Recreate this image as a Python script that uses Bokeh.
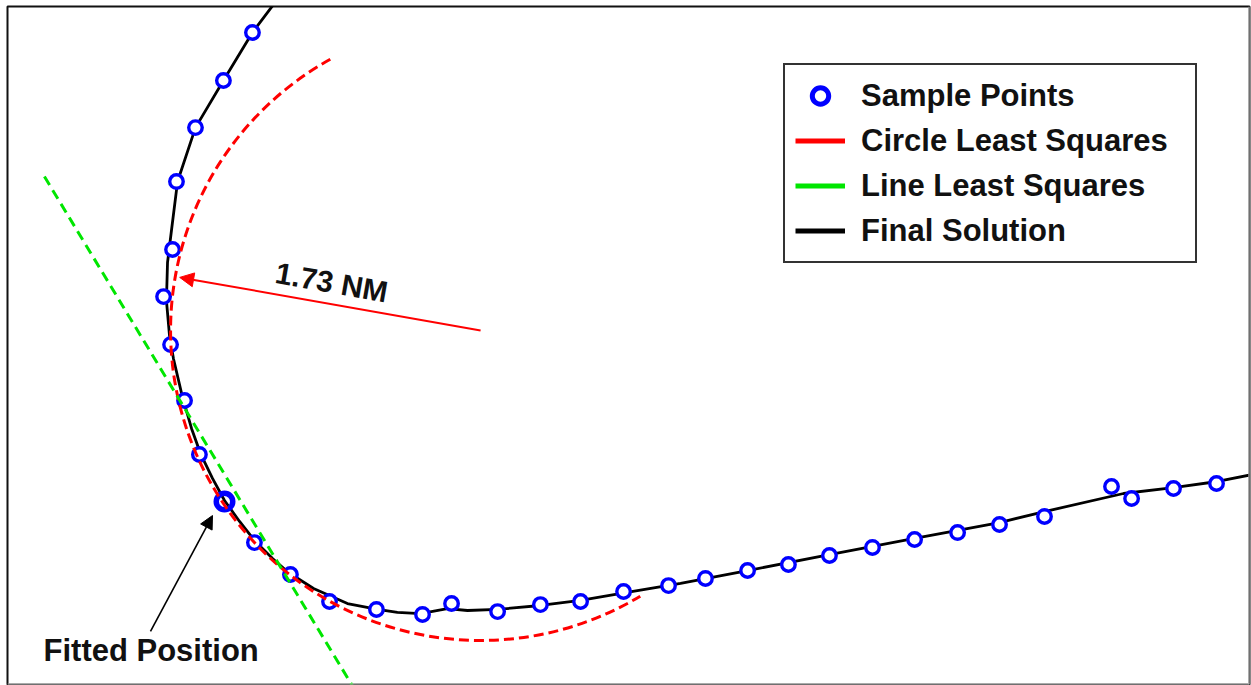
import numpy as np
from bokeh.plotting import figure
from bokeh.models import (Range1d, Arrow, NormalHead, Label, Legend,
                          LegendItem, Span)
from bokeh.embed import file_html
from bokeh.resources import INLINE

# Positions in nautical miles (east, north) inside the display window
sample_east = [1.367, 1.205, 1.049, 0.943, 0.921, 0.871, 0.910, 0.988, 1.071,
               1.378, 1.579, 1.797, 2.059, 2.316, 2.478, 2.735, 2.974, 3.198,
               3.438, 3.689, 3.895, 4.130, 4.358, 4.587, 4.827, 5.062, 5.302,
               5.536, 5.787, 6.161, 6.273, 6.507, 6.747]
sample_north = [3.639, 3.371, 3.108, 2.807, 2.428, 2.165, 1.897, 1.585, 1.284,
                0.792, 0.614, 0.463, 0.419, 0.391, 0.452, 0.407, 0.446, 0.463,
                0.519, 0.552, 0.592, 0.636, 0.670, 0.720, 0.765, 0.809, 0.848,
                0.893, 0.938, 1.105, 1.038, 1.094, 1.122]

fit_east = [1.211]
fit_north = [1.021]

# Final solution track
track_east = [1.501, 1.367, 1.205, 1.049, 0.949, 0.915, 0.893, 0.887, 0.904,
              0.926, 0.977, 1.027, 1.077, 1.144, 1.211, 1.295, 1.378, 1.479,
              1.568, 1.708, 1.897, 2.065, 2.176, 2.305, 2.455, 2.567, 2.735,
              2.974, 3.198, 3.449, 3.756, 4.130, 4.587, 5.062, 5.536, 5.787,
              6.228, 6.507, 6.753, 6.948]
track_north = [3.817, 3.639, 3.371, 3.108, 2.807, 2.534, 2.355, 2.143, 1.948,
               1.819, 1.602, 1.429, 1.289, 1.150, 1.027, 0.910, 0.804, 0.703,
               0.625, 0.536, 0.452, 0.419, 0.402, 0.396, 0.424, 0.413, 0.419,
               0.441, 0.469, 0.513, 0.564, 0.636, 0.725, 0.815, 0.904, 0.965,
               1.066, 1.099, 1.133, 1.172]

# Circle least-squares fit
circle_east = [2.640]
circle_north = [1.976]
circle_radius = 1.73
arc_start_deg = 119.0
arc_end_deg = 301.0

# Line least-squares fit: north = slope * east + intercept
line_slope = -1.654
line_intercept = 3.176
line_east = [0.206, 1.95]

view_east = 6.931
view_north = 3.784

FONT = "Liberation Sans"
BLUE = "#0000ff"
RED = "#ff0000"
GREEN = "#00e600"

p = figure(width=1251, height=685,
           x_range=Range1d(0, view_east), y_range=Range1d(0, view_north),
           x_axis_type=None, y_axis_type=None, tools="",
           toolbar_location=None, output_backend="svg",
           min_border_left=7, min_border_right=2,
           min_border_top=6, min_border_bottom=1,
           background_fill_color="white", border_fill_color="white",
           outline_line_color="#111111", outline_line_width=2,
           outline_line_alpha=1.0)

# Final solution
p.line(track_east, track_north, line_color="black", line_width=2.8,
       line_join="round")

# Sample points
p.scatter(sample_east, sample_north, marker="circle", size=13.5,
          line_color=BLUE, line_width=3.4, fill_color="white")
p.scatter(fit_east, fit_north, marker="circle", size=16.5,
          line_color=BLUE, line_width=5.5, fill_color="white", fill_alpha=0)

# Circle least squares arc
p.arc(x=circle_east, y=circle_north, radius=circle_radius,
      start_angle=arc_start_deg, end_angle=arc_end_deg, start_angle_units="deg",
      end_angle_units="deg", direction="anticlock",
      line_color=RED, line_width=3, line_dash="10 5")

# Line least squares
line_north = [line_slope * e + line_intercept for e in line_east]
p.line(line_east, line_north, line_color=GREEN, line_width=3,
       line_dash="10 6")

# Radius arrow and label
theta = np.deg2rad(170.0)
cx, cy = circle_east[0], circle_north[0]
ux, uy = np.cos(theta), np.sin(theta)
tip_r = circle_radius - 0.025
p.add_layout(Arrow(x_start=cx, y_start=cy,
                   x_end=cx + tip_r * ux, y_end=cy + tip_r * uy,
                   line_color=RED, line_width=2,
                   end=NormalHead(size=14, fill_color=RED, line_color=RED)))
nx, ny = -uy, ux
if ny < 0:
    nx, ny = -nx, -ny
mid = 0.5 * circle_radius
p.add_layout(Label(x=cx + mid * ux + 0.12 * nx, y=cy + mid * uy + 0.12 * ny,
                   text=f"{circle_radius:.2f} NM", angle=170.0 - 180.0,
                   angle_units="deg", text_align="center",
                   text_baseline="middle", text_font=FONT,
                   text_font_style="bold", text_font_size="30px",
                   text_color="#111111"))

# Fitted position callout
p.add_layout(Arrow(x_start=0.798, y_start=0.296,
                   x_end=fit_east[0] - 0.067, y_end=fit_north[0] - 0.078,
                   line_color="black", line_width=1.6,
                   end=NormalHead(size=13, fill_color="black",
                                  line_color="black")))
p.add_layout(Label(x=0.201, y=0.19, text="Fitted Position",
                   text_align="left", text_baseline="middle", text_font=FONT,
                   text_font_style="bold", text_font_size="31px",
                   text_color="#111111"))

# Light right/bottom edges of the frame
p.add_layout(Span(location=view_east, dimension="height",
                  line_color="#cfcfcf", line_width=2))
p.add_layout(Span(location=0, dimension="width",
                  line_color="#cfcfcf", line_width=2))

# Legend swatches (solid styles, placed outside the visible window)
off_e = [-2.0, -1.5]
off_n = [-2.0, -2.0]
leg_pts = p.scatter(off_e, off_n, marker="circle", line_color=BLUE,
                    line_width=5, fill_color="white")
leg_red = p.line(off_e, off_n, line_color=RED, line_width=5)
leg_green = p.line(off_e, off_n, line_color=GREEN, line_width=5)
leg_black = p.line(off_e, off_n, line_color="black", line_width=5)

legend = Legend(items=[LegendItem(label="Sample Points", renderers=[leg_pts]),
                       LegendItem(label="Circle Least Squares", renderers=[leg_red]),
                       LegendItem(label="Line Least Squares", renderers=[leg_green]),
                       LegendItem(label="Final Solution", renderers=[leg_black])],
                location=(776, 421), margin=0, padding=10, spacing=4,
                glyph_width=50, glyph_height=41, label_height=41,
                label_width=324, label_standoff=16,
                label_text_font=FONT, label_text_font_style="bold",
                label_text_font_size="31px", label_text_color="#111111",
                border_line_color="#333333", border_line_width=2,
                border_line_alpha=1.0,
                background_fill_color="white", background_fill_alpha=1.0)
p.add_layout(legend)

open("out.html", "w").write(file_html(p, INLINE))
